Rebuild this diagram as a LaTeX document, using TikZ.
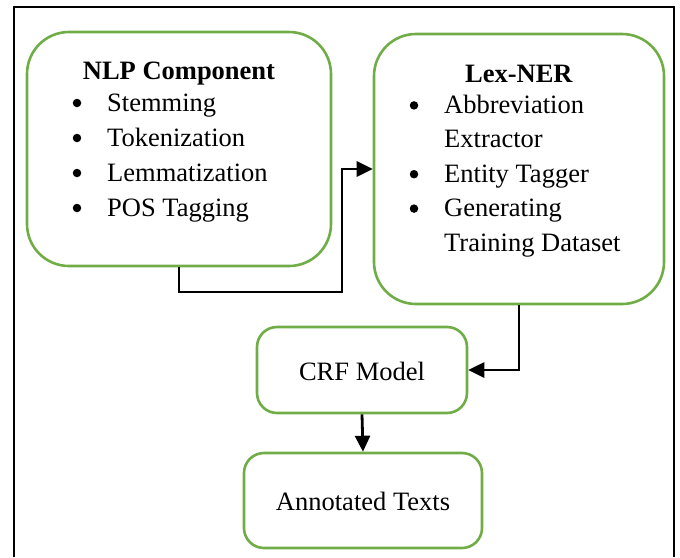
\documentclass[tikz,border=0pt]{standalone}
\usepackage{fontspec}
\setmainfont{Liberation Serif}
\usepackage{tikz}
\usetikzlibrary{arrows.meta, positioning, calc}
\definecolor{BoxGruen}{RGB}{112,173,71}

\begin{document}
\begin{tikzpicture}[x=1pt, y=-1pt, >={Triangle[length=16pt, width=15pt]},
    box/.style={draw=BoxGruen, line width=2.6pt, rounded corners=#1, inner sep=0},
    box/.default=20pt,
    txt/.style={font=\fontsize{26.5}{35}\selectfont, inner sep=0},
    dot/.style={circle, fill, inner sep=0, minimum size=8.5pt},
    conn/.style={line width=2.8pt}]
\useasboundingbox (0,0) rectangle (680,557);
% frame (open at the bottom)
\draw[line width=2pt] (14,557) -- (14,7) -- (674,7) -- (674,557);

% boxes
\node[box=42pt, minimum width=304pt, minimum height=234pt] (nlp) at (179,149) {};
\node[box=42pt, minimum width=290pt, minimum height=270pt] (lex) at (519,169) {};
\node[box, minimum width=210pt, minimum height=86pt] (crf) at (362,370) {};
\node[box, minimum width=238pt, minimum height=95pt] (ann) at (363,500.5) {};

% NLP Component
\node[txt, anchor=base] (nlptitle) at (179,79) {\textbf{NLP Component}};
\foreach \t [count=\i] in {Stemming, Tokenization, Lemmatization, POS Tagging}
{
    \node[dot] (nlpb\i) at (77, 68+35*\i) {};
    \node[txt, anchor=base west] (nlp\i) at (107, 76+35*\i) {\t};
}

% Lex-NER
\node[txt, anchor=base] (lextitle) at (519,82) {\textbf{Lex-NER}};
\foreach \t [count=\i] in {Abbreviation, Extractor, Entity Tagger, Generating, Training Dataset}
{
    \node[txt, anchor=base west] (lex\i) at (444, 79+34.4*\i) {\t};
}
\foreach \i in {1,3,4}
{
    \node[dot] (lexb\i) at (414, 71+34.4*\i) {};
}

\node[txt, anchor=base] (crftxt) at (362,380) {CRF Model};
\node[txt, anchor=base] (anntxt) at (363,510) {Annotated Texts};

% connectors
\coordinate (knick) at (342,292);
\draw[conn, ->] (nlp.south) |- (knick) |- (lex.west);
\draw[conn, ->] (lex.south) |- (crf.east);
\draw[conn, ->] (crf.south) -- (ann.north);
\end{tikzpicture}
\end{document}
